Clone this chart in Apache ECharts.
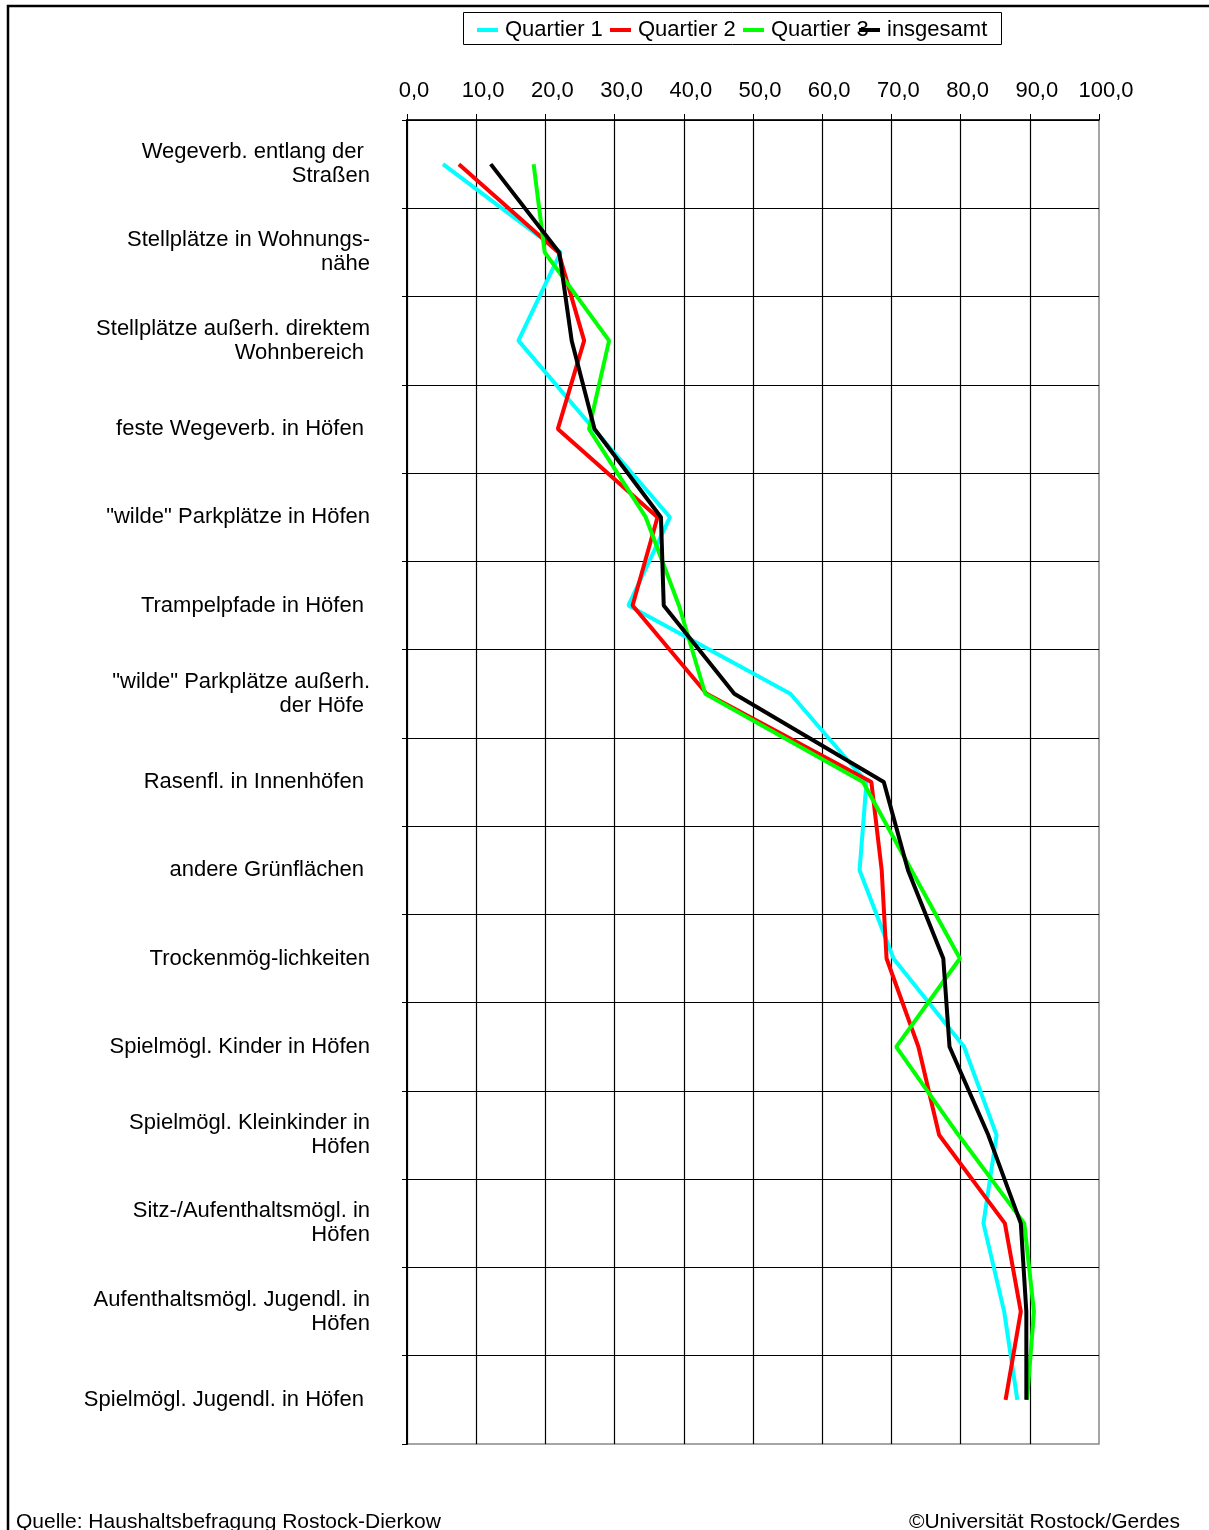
<!DOCTYPE html>
<html>
<head>
<meta charset="utf-8">
<script src="https://cdn.jsdelivr.net/npm/echarts@6/dist/echarts.min.js"></script>
<style>
html,body{margin:0;padding:0;background:#fff;}
#chart{width:1209px;height:1530px;}
</style>
</head>
<body>
<div id="chart"></div>
<script>
const categories = [
  "Wegeverb. entlang der \nStraßen",
  "Stellplätze in Wohnungs-\nnähe",
  "Stellplätze außerh. direktem\nWohnbereich ",
  "feste Wegeverb. in Höfen ",
  "\"wilde\" Parkplätze in Höfen",
  "Trampelpfade in Höfen ",
  "\"wilde\" Parkplätze außerh.\nder Höfe ",
  "Rasenfl. in Innenhöfen ",
  "andere Grünflächen ",
  "Trockenmög-lichkeiten",
  "Spielmögl. Kinder in Höfen",
  "Spielmögl. Kleinkinder in\nHöfen",
  "Sitz-/Aufenthaltsmögl. in\nHöfen",
  "Aufenthaltsmögl. Jugendl. in\nHöfen",
  "Spielmögl. Jugendl. in Höfen "
];
const seriesNames = ["Quartier 1", "Quartier 2", "Quartier 3", "insgesamt"];
const quartier1 = [5.2, 22.2, 16.1, 27.0, 38.0, 32.0, 55.4, 66.4, 65.4, 70.3, 80.5, 85.2, 83.3, 86.3, 88.2];
const quartier2 = [7.5, 21.9, 25.6, 21.8, 36.2, 32.6, 43.3, 67.1, 68.6, 69.3, 73.9, 76.9, 86.4, 88.7, 86.5];
const quartier3 = [18.3, 19.9, 29.2, 26.3, 34.5, 39.3, 43.1, 65.9, 72.9, 79.9, 70.7, 79.7, 89.2, 90.6, 89.6];
const insgesamt = [12.1, 22.0, 23.8, 27.1, 36.7, 37.1, 47.3, 68.9, 72.4, 77.5, 78.4, 84.0, 88.7, 89.5, 89.5];
const xTicks = [0, 10, 20, 30, 40, 50, 60, 70, 80, 90, 100];
const sourceText = "Quelle: Haushaltsbefragung Rostock-Dierkow";
const copyrightText = "©Universität Rostock/Gerdes";

const colors = ["#00FFFF", "#FF0000", "#00FF00", "#000000"];
const FONT = "'Liberation Sans', Arial, sans-serif";
const FS = 22;

const chart = echarts.init(document.getElementById('chart'), null, {renderer: 'canvas'});
const dataSets = [quartier1, quartier2, quartier3, insgesamt];
const legendLefts = [477, 610, 743, 859];

const option = {
  animation: false,
  backgroundColor: '#fff',
  textStyle: {fontFamily: FONT, color: '#000'},
  grid: {left: 407, right: 110, top: 120, bottom: 86, show: true, borderColor: '#888', borderWidth: 1.5, backgroundColor: 'transparent'},
  legend: seriesNames.map((n, i) => ({
    data: [n], left: legendLefts[i], top: 19, padding: 0,
    icon: 'rect', itemWidth: 21, itemHeight: 4,
    textStyle: {fontFamily: FONT, fontSize: FS, color: '#000', padding: [0, 0, 0, 2]}
  })),
  xAxis: {
    type: 'value', position: 'top', min: xTicks[0], max: xTicks[xTicks.length - 1], interval: 10,
    axisLine: {show: true, lineStyle: {color: '#000', width: 1.5}},
    axisTick: {show: true, inside: false, length: 6, lineStyle: {color: '#000', width: 1}},
    axisLabel: {
      fontFamily: FONT, fontSize: FS, color: '#000', margin: 18,
      padding: [0, 0, 0, 14],
      formatter: v => v.toFixed(1).replace('.', ',')
    },
    splitLine: {show: true, showMaxLine: false, lineStyle: {color: '#000', width: 1.2}}
  },
  yAxis: {
    type: 'category', inverse: true, data: categories, boundaryGap: true,
    axisLine: {show: true, lineStyle: {color: '#000', width: 2}},
    axisTick: {show: true, inside: false, length: 5, lineStyle: {color: '#000', width: 1}},
    axisLabel: {fontFamily: FONT, fontSize: FS, color: '#000', margin: 37, lineHeight: 24, align: 'right'},
    splitLine: {show: true, showMaxLine: false, lineStyle: {color: '#000', width: 1.2}}
  },
  series: seriesNames.map((n, i) => ({
    name: n, type: 'line', data: dataSets[i], showSymbol: false, symbol: 'none',
    itemStyle: {color: colors[i]},
    lineStyle: {color: colors[i], width: 4},
    z: 3 + i
  })),
  graphic: [
    {type: 'rect', shape: {x: 8, y: 6, width: 1400, height: 1700}, style: {fill: 'none', stroke: '#000', lineWidth: 2.5}, silent: true},
    {type: 'rect', shape: {x: 463.5, y: 12.5, width: 538, height: 32}, style: {fill: 'none', stroke: '#000', lineWidth: 1}, silent: true, z: 0},
    {type: 'text', left: 16, top: 1512, style: {text: sourceText, font: "21px " + FONT, fill: '#000'}},
    {type: 'text', right: 29, top: 1512, style: {text: copyrightText, font: "21px " + FONT, fill: '#000'}}
  ]
};
chart.setOption(option);
</script>
</body>
</html>
